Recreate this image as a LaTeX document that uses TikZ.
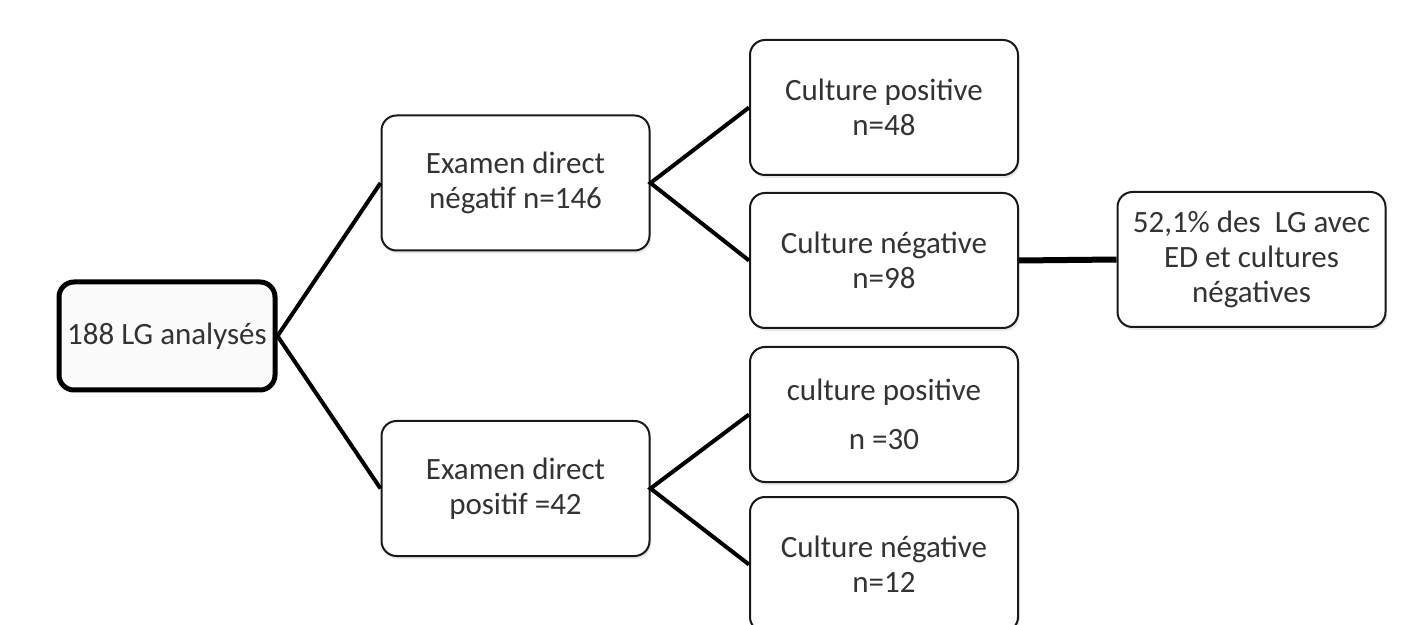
\documentclass[tikz,border=0pt]{standalone}
\usepackage{fontspec}
\setmainfont{Carlito}
\usetikzlibrary{shadows}

\begin{document}
\begin{tikzpicture}[x=0.5pt,y=-0.5pt,
    boite/.style={draw=black!90,line width=1pt,rounded corners=7.5pt,fill=white,
        minimum width=134pt,minimum height=67.5pt,align=center,inner sep=2pt,
        text=black!80,font=\fontsize{15.5}{17.5}\selectfont,
        drop shadow={shadow xshift=0.8pt,shadow yshift=-1.5pt,opacity=0.18}},
    racine/.style={draw=black,line width=2.5pt,rounded corners=7.5pt,fill=black!1.5,
        minimum width=108pt,minimum height=54pt,align=center,inner sep=0pt,
        text=black!80,font=\fontsize{15.5}{17.5}\selectfont},
    lien/.style={line width=2pt},
    lienfort/.style={line width=3pt}]
        \useasboundingbox (0,0) rectangle (1424,625);

        \node[racine] (LG) at (167,336) {188 LG analysés};

        \node[boite] (EDneg) at (515.5,183) {Examen direct\\négatif n=146};
        \node[boite] (EDpos) at (515.5,488.5) {Examen direct\\positif =42};

        \node[boite] (CP1) at (884,107.5) {Culture positive\\n=48};
        \node[boite] (CN1) at (884,260.5) {Culture négative\\n=98};
        \node[boite] (CP2) at (884,414.5) {culture positive\\[7pt]n =30};
        \node[boite] (CN2) at (884,564.5) {Culture négative\\n=12};

        \node[boite] (bilan) at (1251.5,259.5) {52,1\% des~~LG avec\\ED et cultures\\négatives};

        % branches
        \draw[lien] (EDneg.west) -- (LG.east) -- (EDpos.west);
        \draw[lien] (CP1.west) -- (EDneg.east) -- (CN1.west);
        \draw[lien] (CP2.west) -- (EDpos.east) -- (CN2.west);
        \draw[lienfort] (CN1.east) -- (bilan.west);
    \end{tikzpicture}
\end{document}
